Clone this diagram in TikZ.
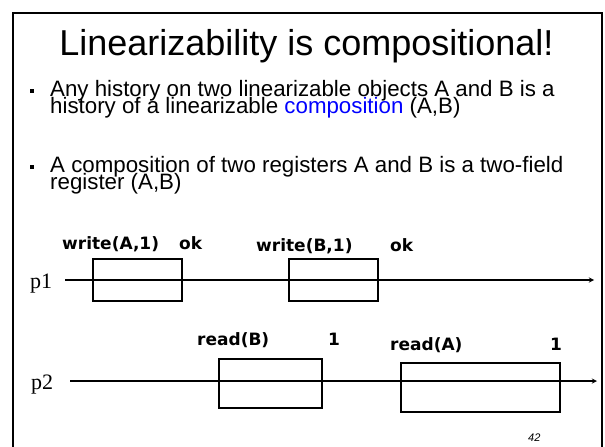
\documentclass[tikz,border=0pt]{standalone}
\usepackage{fontspec}
\setmainfont{Liberation Sans}
\newfontfamily\procfont{Liberation Serif}
\newfontfamily\opfont{DejaVu Sans}
\usetikzlibrary{arrows}

\tikzset{
  opbox/.style={draw,line width=1.7pt,inner sep=0pt},
  oplabel/.style={anchor=base west,inner sep=0pt,font=\opfont\bfseries\fontsize{17}{20}\selectfont},
  proclabel/.style={anchor=base west,inner sep=0pt,font=\procfont\fontsize{22}{26}\selectfont},
  bodytext/.style={anchor=base west,inner sep=0pt,font=\fontsize{22.3}{24}\selectfont}
}

\begin{document}
\begin{tikzpicture}[>=stealth,x=1pt,y=-1pt]
                \useasboundingbox (0,0) rectangle (605,447);
                \fill[white] (0,0) rectangle (605,447);
                % frame of the slide
                \draw[line width=2pt] (13,447)--(13,13)--(602,13)--(602,447);

                \node[anchor=base,inner sep=0pt,font=\fontsize{36}{42}\selectfont] (title) at(306.5,55) {Linearizability is compositional!};

                \fill (29.5,89) rectangle (33.5,93);
                \node[bodytext] (txta) at(50,96) {Any history on two linearizable objects A and B is a};
                \node[bodytext] (txtb) at(50,113) {history of a linearizable \textcolor[rgb]{0,0,1}{composition} (A,B)};
                \fill (29.5,165) rectangle (33.5,169);
                \node[bodytext] (txtc) at(50,172) {A composition of two registers A and B is a two-field};
                \node[bodytext] (txtd) at(50,189) {register (A,B)};

                % process p1
                \node[proclabel] (p1) at(30,288) {p1};
                \coordinate (p1s) at(65,280);
                \coordinate (p1e) at(594,280);
                \draw[->,line width=1.3pt] (p1s)--(p1e);
                \node[opbox,minimum width=89pt,minimum height=42pt] (wa) at(137.5,280) {};
                \node[opbox,minimum width=89pt,minimum height=42pt] (wb) at(333.5,280) {};
                \node[oplabel] (wal) at(62,249) {write(A,1)};
                \node[oplabel] (wao) at(179,249) {ok};
                \node[oplabel] (wbl) at(256,251) {write(B,1)};
                \node[oplabel] (wbo) at(390,251) {ok};

                % process p2
                \node[proclabel] (p2) at(31,389) {p2};
                \coordinate (p2s) at(70,381);
                \coordinate (p2e) at(597,381);
                \draw[->,line width=1.3pt] (p2s)--(p2e);
                \node[opbox,minimum width=103pt,minimum height=49pt] (rb) at(270.5,383.5) {};
                \node[opbox,minimum width=159pt,minimum height=49pt] (ra) at(480.5,387.5) {};
                \node[oplabel] (rbl) at(197,345) {read(B)};
                \node[oplabel] (rbv) at(328,345) {1};
                \node[oplabel] (ral) at(390,350) {read(A)};
                \node[oplabel] (rav) at(550,350) {1};

                \node[anchor=base west,inner sep=0pt,font=\itshape\fontsize{11}{13}\selectfont] (pg) at(528,441) {42};
\end{tikzpicture}
\end{document}
